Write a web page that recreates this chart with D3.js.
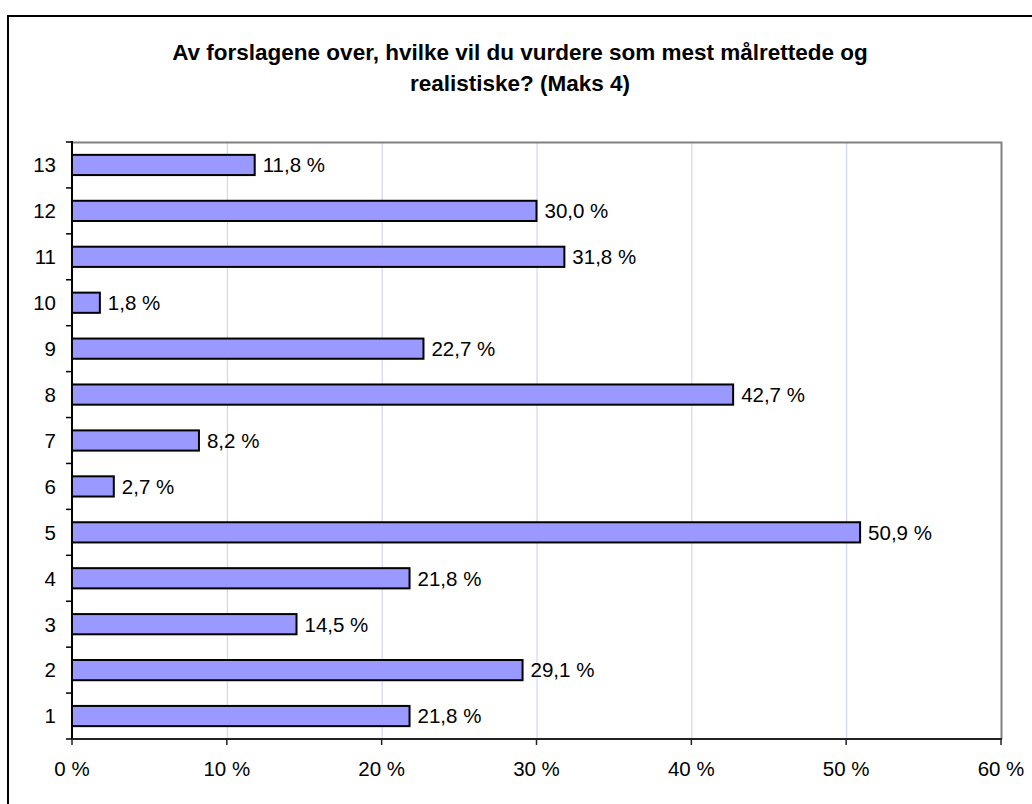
<!DOCTYPE html>
<html><head><meta charset="utf-8">
<script src="https://cdn.jsdelivr.net/npm/d3@7"></script>
<style>body{margin:0;background:#fff;} svg{display:block;}</style>
</head><body>
<svg id="chart" width="1032" height="804"></svg>
<script>
const categories = ["1","2","3","4","5","6","7","8","9","10","11","12","13"];
const values = [21.8,29.1,14.5,21.8,50.9,2.7,8.2,42.7,22.7,1.8,31.8,30.0,11.8];
const xTicks = [0,10,20,30,40,50,60];
const titleLines = ["Av forslagene over, hvilke vil du vurdere som mest målrettede og","realistiske? (Maks 4)"];

const svg = d3.select("#chart");
const font = "'Liberation Sans', Arial, sans-serif";
const L = 72, R = 1001, T = 142, B = 739;

svg.append("rect").attr("x",8).attr("y",16).attr("width",1040).attr("height",800)
  .attr("fill","#fff").attr("stroke","#000").attr("stroke-width",2);

const x = d3.scaleLinear().domain([0,60]).range([L,R]);
const y = d3.scaleBand().domain(categories.slice().reverse()).range([T,B]).paddingInner(0.56).paddingOuter(0.28);

// gridlines
svg.append("g").selectAll("line").data(xTicks.filter(d=>d>0&&d<60)).join("line")
  .attr("x1",d=>x(d)+0.5).attr("x2",d=>x(d)+0.5).attr("y1",T).attr("y2",B)
  .attr("stroke","#ccccf5").attr("stroke-width",1);

// plot border top/right
svg.append("path").attr("d",`M${L},${T+0.5}H${R+0.5}V${B}`).attr("fill","none").attr("stroke","#808080").attr("stroke-width",2);

// bars
svg.append("g").selectAll("rect").data(values).join("rect")
  .attr("x",x(0)).attr("y",(d,i)=>y(categories[i]))
  .attr("width",d=>x(d)-x(0)).attr("height",y.bandwidth())
  .attr("fill","#9999ff").attr("stroke","#000").attr("stroke-width",2);

// value labels
svg.append("g").selectAll("text").data(values).join("text")
  .attr("x",d=>x(d)+8).attr("y",(d,i)=>y(categories[i])+y.bandwidth()/2)
  .attr("dy","0.36em").attr("font-family",font).attr("font-size",20.5).attr("fill","#000")
  .text(d=>d.toFixed(1).replace(".",",")+" %");

// y axis
const step = (B-T)/categories.length;
const yAx = svg.append("g");
yAx.append("line").attr("x1",L).attr("x2",L).attr("y1",T-1).attr("y2",B+1).attr("stroke","#000").attr("stroke-width",2);
yAx.selectAll("line.t").data(d3.range(categories.length+1)).join("line").attr("class","t")
  .attr("x1",L-6).attr("x2",L).attr("y1",d=>T+d*step).attr("y2",d=>T+d*step)
  .attr("stroke","#000").attr("stroke-width",1.5);
yAx.selectAll("text").data(categories).join("text")
  .attr("x",56).attr("y",d=>y(d)+y.bandwidth()/2).attr("dy","0.36em")
  .attr("text-anchor","end").attr("font-family",font).attr("font-size",20.5).text(d=>d);

// x axis
const xAx = svg.append("g");
xAx.append("line").attr("x1",L).attr("x2",R+1).attr("y1",B).attr("y2",B).attr("stroke","#222").attr("stroke-width",2);
xAx.selectAll("line.t").data(xTicks).join("line").attr("class","t")
  .attr("x1",d=>x(d)).attr("x2",d=>x(d)).attr("y1",B).attr("y2",B+6)
  .attr("stroke","#222").attr("stroke-width",1.5);
xAx.selectAll("text").data(xTicks).join("text")
  .attr("x",d=>x(d)).attr("y",776).attr("text-anchor","middle")
  .attr("font-family",font).attr("font-size",20.5).text(d=>d+" %");

// title
svg.append("g").selectAll("text").data(titleLines).join("text")
  .attr("x",520).attr("y",(d,i)=>60+i*30.5).attr("text-anchor","middle")
  .attr("font-family",font).attr("font-size",22.5).attr("font-weight","bold").text(d=>d);
</script>
</body></html>
